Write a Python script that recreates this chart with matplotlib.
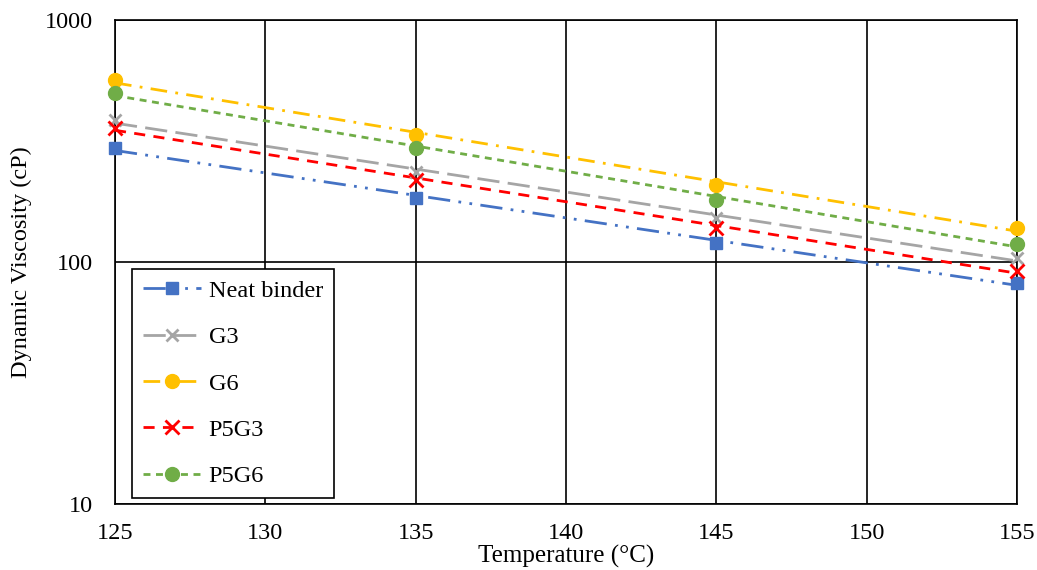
import numpy as np
import matplotlib.pyplot as plt

plt.rcParams['font.family'] = ['Liberation Serif', 'DejaVu Serif']

temps = [125, 135, 145, 155]
neat = [296, 184, 120, 82]
g3 = [386, 235, 152, 104]
g6 = [565, 335, 208, 138]
p5g3 = [358, 218, 138, 92]
p5g6 = [499, 296, 180, 119]

fig = plt.figure(figsize=(10.37, 5.7), dpi=100)
ax = fig.add_axes([115/1037, 66/570, 902/1037, 484/570])

series = [
    ("Neat binder", neat, "#4472C4", "s", (0, (8, 3, 1, 3, 1, 3)), 9),
    ("G3", g3, "#A5A5A5", "x", (0, (8, 3)), 9),
    ("G6", g6, "#FFC000", "o", (0, (6, 3, 1, 3)), 10),
    ("P5G3", p5g3, "#FF0000", "x", (0, (4, 3)), 10),
    ("P5G6", p5g6, "#70AD47", "o", (0, (2.5, 2)), 10),
]

t = np.array(temps, dtype=float)
for name, vals, col, mk, ls, ms in series:
    # exponential trendline through the points (straight on log axis)
    k, b = np.polyfit(t, np.log(vals), 1)
    ax.plot(t, np.exp(k * t + b), color=col, linestyle=ls, linewidth=2, zorder=3)
    ax.plot(t, vals, linestyle='none', marker=mk, color=col, markersize=ms,
            markeredgewidth=2 if mk == 'x' else 1, zorder=4, clip_on=False)
    ax.plot([], [], color=col, linestyle=ls, linewidth=2, marker=mk,
            markersize=ms, markeredgewidth=2 if mk == 'x' else 1, label=name)

ax.set_yscale('log')
ax.set_ylim(10, 1000)
ax.set_xlim(125, 155)
ax.set_xticks(range(125, 156, 5))
ax.set_yticks([10, 100, 1000])
ax.set_yticklabels(['10', '100', '1000'])
ax.minorticks_off()
ax.grid(True, color='black', linewidth=1.2, zorder=0)
ax.set_axisbelow(True)
for s in ax.spines.values():
    s.set_linewidth(1.2)
ax.tick_params(length=0, labelsize=17.5)
ax.tick_params(axis='x', pad=14)
ax.tick_params(axis='y', pad=16)

ax.set_xlabel("Temperature (°C)", fontsize=18, labelpad=0)
ax.set_ylabel("Dynamic Viscosity (cP)", fontsize=17.5, labelpad=9)

leg = ax.legend(loc='upper left', bbox_to_anchor=(17/902, (504 - 269)/484), fontsize=17.5,
                handlelength=2.4, handletextpad=0.3, labelspacing=1.0,
                borderpad=0.45, borderaxespad=0,
                fancybox=False, framealpha=1, edgecolor='black')
leg.get_frame().set_linewidth(1.2)

fig.savefig("out.png", dpi=100)
